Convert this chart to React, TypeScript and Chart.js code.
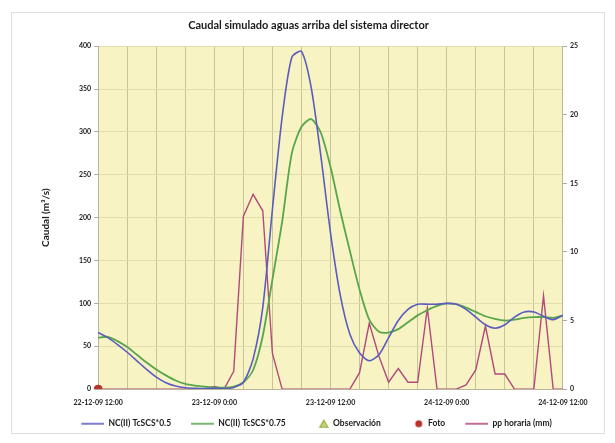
import React, { useEffect, useRef } from 'react';
import { Chart, registerables } from 'chart.js';

Chart.register(...registerables);

const chartTitle = 'Caudal simulado aguas arriba del sistema director';
const yTitle = 'Caudal (m³/s)';
const days = ['22-12-09', '23-12-09', '24-12-09'];
const startHour = 12;
const hourCount = 49;

const timeLabels: string[] = [];
for (let i = 0; i < hourCount; i++) {
  const t = startHour + i;
  timeLabels.push(`${days[Math.floor(t / 24)]} ${t % 24}:00`);
}

const seriesNames = ['NC(II) TcSCS*0.5', 'NC(II) TcSCS*0.75', 'Observación', 'Foto', 'pp horaria (mm)'];

const qTc05 = [
  66, 60, 52, 43, 33, 23, 14, 7.5, 3.5, 1.5, 0.8, 0.6, 1, 0.6, 2, 8, 35, 95, 210, 317,
  387, 394, 352, 272, 182, 110, 64, 42, 33, 40, 60, 80, 93, 99, 99, 99, 100, 99, 93, 84,
  75, 71, 75, 84, 90, 90, 85, 81, 86,
];
const qTc075 = [
  60, 61, 56, 49, 40, 31, 23, 16, 10, 6, 4, 2.8, 2, 1.6, 3, 8, 22, 62, 128, 195,
  275, 306, 315, 299, 259, 208, 161, 116, 81, 67, 66, 70, 78, 86, 92, 97, 100, 99, 95, 90,
  85, 82, 80, 81, 83, 84, 84, 83, 86,
];
const ppHoraria = [
  0, 0, 0, 0, 0, 0, 0, 0, 0, 0, 0, 0, 0.2, 0, 1.3, 12.6, 14.2, 13.0, 2.6, 0,
  0, 0, 0, 0, 0, 0, 0, 1.2, 4.8, 2.4, 0.5, 1.5, 0.5, 0.5, 5.9, 0, 0, 0, 0.3, 1.4,
  4.6, 1.1, 1.1, 0, 0, 0, 6.8, 0, 0,
];
const fotoValues = [0];
const observacionValues: number[] = [];

const blue = '#5a5cc0';
const green = '#58a64c';
const pink = '#b24a7e';
const triGreen = '#8fae3a';
const fotoRed = '#b8322a';
const fontFamily = 'Lato, "Open Sans", sans-serif';
const ICON_W = 39;

function makeIcon(kind: string, color: string): HTMLCanvasElement {
  const c = document.createElement('canvas');
  c.width = ICON_W;
  c.height = 10;
  const g = c.getContext('2d')!;
  g.strokeStyle = color;
  g.fillStyle = color;
  if (kind === 'line') {
    g.lineWidth = 1.6;
    g.beginPath();
    g.moveTo(ICON_W - 23, 5);
    g.lineTo(ICON_W, 5);
    g.stroke();
  } else if (kind === 'triangle') {
    g.lineWidth = 1.2;
    g.beginPath();
    g.moveTo(ICON_W - 5, 1.5);
    g.lineTo(ICON_W - 1, 8.5);
    g.lineTo(ICON_W - 9, 8.5);
    g.closePath();
    g.fillStyle = '#c9d47a';
    g.fill();
    g.strokeStyle = color;
    g.stroke();
  } else {
    g.beginPath();
    g.arc(ICON_W - 5, 5, 3.5, 0, Math.PI * 2);
    g.fill();
  }
  return c;
}

export default function App() {
  const ref = useRef<HTMLCanvasElement | null>(null);

  useEffect(() => {
    document.body.style.margin = '0';
    const canvas = ref.current!;
    const icons = [
      makeIcon('line', blue),
      makeIcon('line', green),
      makeIcon('triangle', triGreen),
      makeIcon('circle', fotoRed),
      makeIcon('line', pink),
    ];

    const bgPlugin = {
      id: 'bgPlugin',
      beforeDraw(chart: any) {
        const { ctx, chartArea: a, width, height } = chart;
        ctx.save();
        ctx.fillStyle = '#ffffff';
        ctx.fillRect(0, 0, width, height);
        ctx.strokeStyle = '#dedede';
        ctx.lineWidth = 1;
        ctx.strokeRect(11.5, 12.5, width - 22, height - 22);
        ctx.fillStyle = '#f7f3c2';
        ctx.fillRect(a.left, a.top, a.right - a.left, a.bottom - a.top);
        ctx.restore();
      },
    };

    const chart = new Chart(canvas, {
      type: 'line',
      data: {
        labels: timeLabels,
        datasets: [
          {
            label: seriesNames[0],
            data: qTc05,
            borderColor: blue,
            backgroundColor: blue,
            borderWidth: 1.6,
            pointRadius: 0,
            tension: 0.25,
            yAxisID: 'y',
          },
          {
            label: seriesNames[1],
            data: qTc075,
            borderColor: green,
            backgroundColor: green,
            borderWidth: 1.8,
            pointRadius: 0,
            tension: 0.25,
            yAxisID: 'y',
          },
          {
            label: seriesNames[2],
            data: observacionValues,
            borderColor: triGreen,
            backgroundColor: '#c9d47a',
            pointStyle: 'triangle',
            pointRadius: 4,
            showLine: false,
            yAxisID: 'y',
          },
          {
            label: seriesNames[3],
            data: fotoValues,
            borderColor: fotoRed,
            backgroundColor: fotoRed,
            pointStyle: 'circle',
            pointRadius: 4,
            showLine: false,
            yAxisID: 'y',
          },
          {
            label: seriesNames[4],
            data: ppHoraria,
            borderColor: pink,
            backgroundColor: pink,
            borderWidth: 1.4,
            pointRadius: 0,
            tension: 0,
            yAxisID: 'y1',
          },
        ],
      },
      options: {
        responsive: false,
        animation: false,
        layout: { padding: { top: 19, left: 36, right: 34, bottom: 5 } },
        plugins: {
          title: {
            display: true,
            text: chartTitle,
            color: '#1a1a1a',
            font: { family: fontFamily, size: 11, weight: 'bold' },
            padding: { top: 0, bottom: 14 },
          },
          legend: {
            position: 'bottom',
            labels: {
              usePointStyle: true,
              pointStyleWidth: ICON_W,
              boxHeight: 9,
              padding: 4,
              color: '#1a1a1a',
              font: { family: fontFamily, size: 8.5, weight: 'bold' },
              generateLabels: () =>
                seriesNames.map((n, i) => ({
                  text: n,
                  pointStyle: icons[i],
                  fillStyle: 'transparent',
                  strokeStyle: 'transparent',
                  lineWidth: 0,
                  hidden: false,
                  datasetIndex: i,
                  fontColor: '#1a1a1a',
                })),
            },
          },
          tooltip: { enabled: false },
        },
        scales: {
          x: {
            type: 'category',
            grid: {
              color: (c: any) => (c.index % 3 === 0 ? '#c8c398' : 'rgba(0,0,0,0)'),
              lineWidth: 1,
              drawTicks: false,
            },
            border: { color: '#b9b49a' },
            ticks: {
              autoSkip: false,
              maxRotation: 0,
              minRotation: 0,
              padding: 9,
              color: '#1a1a1a',
              font: { family: fontFamily, size: 7, weight: 'bold' },
              callback: (_v: any, i: number) => (i % 12 === 0 ? timeLabels[i] : ''),
            },
          },
          y: {
            position: 'left',
            min: 0,
            max: 400,
            grid: { color: '#e2ddac', tickColor: '#aaaaaa', tickLength: 4 },
            border: { color: '#b9b49a' },
            ticks: {
              stepSize: 50,
              padding: 3,
              color: '#1a1a1a',
              font: { family: fontFamily, size: 7, weight: 'bold' },
            },
            title: {
              display: true,
              text: yTitle,
              color: '#1a1a1a',
              font: { family: fontFamily, size: 10, weight: 'bold' },
              padding: { top: 4, bottom: 24 },
            },
          },
          y1: {
            position: 'right',
            min: 0,
            max: 25,
            grid: { drawOnChartArea: false, tickColor: '#aaaaaa', tickLength: 4 },
            border: { color: '#b9b49a' },
            ticks: {
              stepSize: 5,
              padding: 3,
              color: '#1a1a1a',
              font: { family: fontFamily, size: 7, weight: 'bold' },
            },
          },
        },
      },
      plugins: [bgPlugin],
    } as any);

    return () => chart.destroy();
  }, []);

  return <canvas ref={ref} width={615} height={443} style={{ display: 'block' }} />;
}
